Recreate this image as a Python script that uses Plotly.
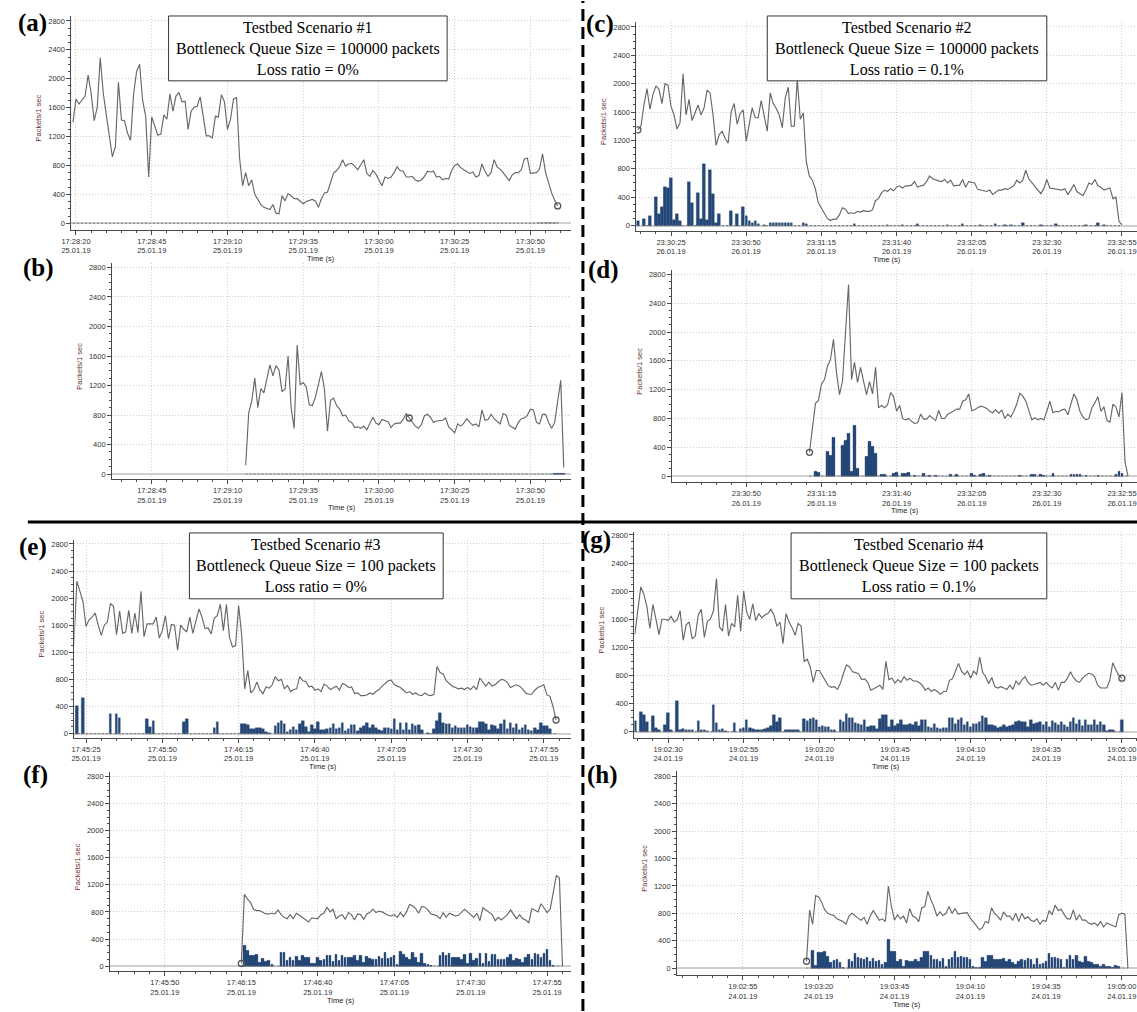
import math
import plotly.graph_objects as go

# ---------------- DATA ----------------
TICKS_AB = ["17:28:20", "17:28:45", "17:29:10", "17:29:35", "17:30:00", "17:30:25", "17:30:50"]
DATE_AB = "25.01.19"
TICKS_CD = ["23:30:25", "23:30:50", "23:31:15", "23:31:40", "23:32:05", "23:32:30", "23:32:55"]
DATE_CD = "26.01.19"
TICKS_EF = ["17:45:25", "17:45:50", "17:46:15", "17:46:40", "17:47:05", "17:47:30", "17:47:55"]
DATE_EF = "25.01.19"
TICKS_GH = ["19:02:30", "19:02:55", "19:03:20", "19:03:45", "19:04:10", "19:04:35", "19:05:00"]
DATE_GH = "24.01.19"
Y_TICKS = [0, 400, 800, 1200, 1600, 2000, 2400, 2800]

TITLES = {
    "a": ["Testbed Scenario #1", "Bottleneck Queue Size = 100000 packets", "Loss ratio = 0%"],
    "c": ["Testbed Scenario #2", "Bottleneck Queue Size = 100000 packets", "Loss ratio = 0.1%"],
    "e": ["Testbed Scenario #3", "Bottleneck Queue Size = 100 packets", "Loss ratio = 0%"],
    "g": ["Testbed Scenario #4", "Bottleneck Queue Size = 100 packets", "Loss ratio = 0.1%"],
}

# Panel (a)
A_LINE_START = "17:28:19"
A_LINE = [1400, 1720, 1650, 1700, 1760, 2050, 1800, 1420, 1600, 2290,
          1800, 1500, 1200, 920, 1060, 1950, 1430, 1420, 1250, 1150,
          1780, 2100, 2200, 1700, 1480, 640, 1470, 1350, 1220, 1230,
          1500, 1440, 1790, 1550, 1760, 1810, 1680, 1690, 1300, 1550,
          1610, 1620, 1750, 1480, 1210, 1210, 1180, 1480, 1470, 1780,
          1680, 1300, 1440, 1720, 1740, 900, 520, 700, 520, 600,
          400, 330, 260, 220, 200, 190, 260, 140, 130, 380,
          310, 410, 380, 340, 340, 310, 270, 300, 320, 330,
          310, 220, 340, 420, 430, 560, 690, 730, 780, 880,
          790, 820, 830, 790, 740, 810, 880, 690, 650, 730,
          680, 600, 520, 640, 620, 640, 700, 780, 730, 720,
          640, 640, 650, 600, 580, 600, 650, 720, 710, 720,
          640, 650, 600, 620, 610, 730, 800, 820, 770, 740,
          720, 690, 710, 640, 660, 820, 720, 650, 700, 880,
          780, 750, 700, 640, 590, 670, 700, 700, 740, 890,
          900, 690, 700, 700, 750, 960, 700, 550, 420, 320,
          240]
A_BAR_START = "17:30:53"
A_BAR = [10, 10, 10, 10, 10, 10, 10]
A_CIRCLE = "17:30:59"

# Panel (b)
B_LINE_START = "17:29:16"
B_LINE = [120, 830, 990, 1300, 900, 1160, 1100, 1300, 1480, 1330,
          1470, 1410, 1120, 1150, 1600, 900, 620, 1750, 1210, 1240,
          1180, 940, 930, 1040, 1200, 1390, 1150, 580, 1000, 1030,
          930, 880, 790, 800, 720, 700, 630, 640, 620, 650,
          600, 690, 770, 690, 670, 740, 720, 710, 630, 680,
          690, 690, 740, 820, 760, 700, 650, 620, 670, 790,
          810, 770, 700, 720, 730, 730, 760, 640, 600, 560,
          680, 650, 690, 750, 700, 660, 680, 640, 870, 730,
          740, 810, 750, 720, 680, 820, 800, 660, 640, 610,
          700, 750, 760, 800, 880, 870, 700, 680, 810, 810,
          700, 620, 700, 1000, 1270, 90]
B_BAR_START = "17:30:58"
B_BAR = [10, 10, 10, 10]
B_CIRCLE = "17:30:10"

# Panel (c)
C_LINE_START = "23:30:14"
C_LINE = [1350, 1400, 1700, 1930, 1640, 1850, 1970, 1920, 1720, 2000,
          1980, 1680, 1560, 1360, 1450, 2140, 1560, 1780, 1480, 1600,
          1700, 1560, 1660, 1910, 1870, 1550, 1130, 1280, 1330, 1230,
          1160, 1600, 1720, 1430, 1580, 1630, 1190, 1420, 1660, 1520,
          1520, 1760, 1560, 1330, 1870, 1720, 1650, 1560, 1380, 1800,
          1950, 1400, 1400, 2060, 1500, 1590, 900, 700, 640, 520,
          320, 240, 170, 100, 70, 90, 90, 150, 250, 230,
          170, 180, 170, 200, 190, 210, 200, 200, 220, 350,
          380, 460, 500, 480, 520, 490, 540, 560, 530, 560,
          560, 570, 620, 540, 560, 570, 620, 700, 660, 640,
          630, 620, 650, 600, 640, 560, 560, 570, 650, 540,
          620, 610, 600, 510, 500, 500, 480, 500, 440, 470,
          500, 500, 520, 510, 530, 560, 640, 600, 640, 780,
          660, 610, 560, 500, 450, 520, 650, 530, 520, 510,
          510, 500, 520, 440, 500, 580, 480, 450, 420, 500,
          600, 580, 650, 560, 540, 500, 520, 530, 380, 400,
          60, 10]
C_BAR_START = "23:30:14"
C_BAR = [60, 0, 90, 0, 130, 0, 410, 170, 260, 540,
         530, 670, 80, 160, 60, 0, 0, 620, 320, 0,
         460, 90, 870, 80, 790, 440, 40, 160, 0, 0,
         0, 200, 0, 160, 0, 260, 140, 60, 40, 70,
         20, 0, 10, 0, 40, 40, 30, 30, 30, 30,
         40, 40, 0, 0, 0, 30, 20, 0, 0, 0,
         0, 0, 0, 0, 0, 0, 0, 0, 0, 0,
         0, 0, 20, 0, 0, 0, 0, 0, 0, 0,
         0, 0, 0, 10, 0, 0, 0, 0, 10, 0,
         0, 0, 0, 20, 0, 0, 0, 0, 0, 0,
         0, 0, 0, 10, 0, 0, 0, 0, 20, 0,
         0, 0, 0, 0, 10, 0, 0, 0, 0, 20,
         0, 0, 10, 0, 10, 0, 0, 0, 30, 0,
         0, 0, 0, 0, 10, 0, 0, 0, 0, 20,
         0, 0, 0, 0, 0, 0, 0, 0, 0, 10,
         0, 0, 0, 30, 0, 10, 0, 0, 0, 0,
         0, 0]
C_CIRCLE = "23:30:14"

# Panel (d)
D_LINE_START = "23:31:11"
D_LINE = [330, 680, 1010, 1050, 1280, 1340, 1530, 1620, 1900, 1440,
          1130, 1320, 2000, 2660, 1340, 1580, 1300, 1510, 1320, 1130,
          1310, 1140, 1510, 950, 980, 950, 990, 1160, 1100, 900,
          980, 800, 780, 800, 760, 730, 740, 860, 790, 790,
          840, 800, 770, 910, 800, 800, 860, 880, 900, 930,
          930, 1040, 1060, 1140, 910, 920, 950, 970, 960, 940,
          900, 880, 920, 870, 920, 800, 860, 820, 900, 1000,
          1150, 1110, 1040, 900, 780, 810, 780, 800, 780, 900,
          1040, 880, 900, 890, 920, 930, 850, 1000, 1140, 1060,
          900, 820, 780, 800, 950, 1020, 1100, 900, 960, 770,
          750, 1000, 960, 820, 1160, 200, 0]
D_BAR_START = "23:31:11"
D_BAR = [0, 0, 70, 50, 0, 0, 340, 280, 540, 0,
         0, 420, 490, 590, 70, 700, 110, 0, 0, 270,
         480, 410, 310, 0, 20, 20, 0, 0, 30, 50,
         0, 30, 40, 50, 0, 10, 0, 0, 40, 0,
         10, 0, 10, 0, 0, 0, 0, 20, 0, 20,
         0, 0, 0, 0, 40, 10, 0, 20, 40, 0,
         10, 0, 0, 0, 0, 0, 0, 0, 0, 0,
         10, 0, 0, 0, 20, 20, 0, 20, 10, 0,
         0, 30, 0, 0, 0, 0, 0, 20, 20, 20,
         20, 0, 10, 0, 0, 0, 10, 0, 0, 0,
         0, 0, 20, 60, 30, 0, 0]
D_CIRCLE = "23:31:11"

# Panel (e)
E_LINE_START = "17:45:21"
E_LINE = [1300, 2250, 2100, 1950, 1580, 1680, 1720, 1780, 1600, 1450,
          1600, 1650, 1920, 1880, 1460, 1810, 1480, 1500, 1820, 1480,
          1780, 1490, 2100, 1430, 1620, 1620, 1620, 1720, 1410, 1520,
          1740, 1400, 1610, 1600, 1230, 1600, 1540, 1500, 1720, 1480,
          1680, 1840, 1720, 1550, 1560, 1470, 1700, 1740, 1910, 1520,
          1910, 1420, 1280, 1300, 1890, 1450, 660, 930, 600, 650,
          760, 640, 590, 690, 670, 720, 840, 780, 800, 660,
          710, 620, 650, 660, 840, 780, 770, 690, 700, 640,
          660, 620, 730, 700, 650, 680, 700, 640, 740, 720,
          680, 690, 590, 600, 560, 560, 570, 600, 580, 620,
          650, 700, 740, 780, 790, 720, 700, 680, 640, 600,
          620, 580, 600, 570, 560, 600, 570, 560, 580, 990,
          900, 880, 780, 740, 700, 680, 660, 670, 650, 680,
          650, 700, 650, 820, 760, 700, 760, 700, 720, 760,
          800, 790, 760, 680, 700, 720, 700, 660, 600, 580,
          580, 640, 680, 700, 720, 570, 550, 400, 200]
E_BAR_START = "17:45:21"
E_BAR = [0, 410, 0, 520, 0, 0, 0, 0, 0, 0,
         0, 0, 290, 0, 290, 230, 0, 0, 0, 0,
         0, 0, 0, 0, 210, 100, 190, 0, 0, 0,
         0, 0, 0, 0, 0, 0, 170, 210, 0, 0,
         0, 0, 0, 0, 0, 0, 90, 170, 0, 0,
         0, 0, 0, 0, 0, 140, 140, 130, 70, 70,
         80, 90, 70, 20, 10, 0, 110, 150, 180, 140,
         20, 60, 100, 60, 140, 180, 100, 30, 130, 70,
         170, 60, 50, 70, 80, 140, 70, 80, 150, 40,
         70, 130, 120, 40, 90, 110, 150, 80, 120, 90,
         60, 40, 80, 90, 70, 210, 60, 160, 50, 150,
         60, 140, 110, 130, 50, 0, 10, 0, 70, 190,
         310, 150, 140, 140, 80, 110, 90, 90, 80, 120,
         100, 90, 90, 170, 170, 140, 60, 120, 110, 70,
         140, 200, 70, 160, 80, 140, 60, 90, 120, 60,
         40, 90, 60, 160, 110, 110, 70]
E_CIRCLE = "17:47:59"

# Panel (f)
F_LINE_START = "17:46:15"
F_LINE = [40, 1060, 990, 940, 840, 820, 820, 790, 770, 770,
          780, 770, 830, 760, 720, 700, 760, 700, 780, 750,
          720, 690, 650, 710, 710, 700, 760, 780, 870, 800,
          840, 700, 740, 760, 690, 790, 760, 680, 770, 760,
          690, 770, 790, 840, 790, 810, 800, 770, 750, 740,
          760, 720, 790, 730, 800, 910, 890, 850, 780, 880,
          870, 830, 770, 760, 740, 700, 790, 720, 780, 760,
          740, 750, 790, 840, 800, 760, 720, 780, 670, 860,
          830, 800, 760, 670, 720, 680, 720, 760, 830, 760,
          700, 760, 700, 680, 640, 850, 830, 800, 920, 860,
          790, 840, 1100, 1340, 1300, 0]
F_BAR_START = "17:46:16"
F_BAR = [300, 230, 160, 160, 170, 60, 110, 70, 80, 20,
         0, 0,
         200, 200, 80, 130, 80, 140, 90, 160, 130, 120,
         40, 40, 130, 90, 100, 150, 150, 70, 170, 90,
         150, 130, 130, 120, 150, 80, 150, 60, 140, 110,
         100, 100, 140, 110, 200, 110, 120, 160, 30, 220,
         170, 130, 100, 200, 120, 60, 190, 40, 20, 10,
         0, 0,
         150, 200, 160, 180, 130, 130, 120, 100, 170, 40,
         180, 80, 110, 180, 40, 180, 70, 170, 170, 100,
         100, 100, 130, 170, 80, 110, 100, 60, 130, 170,
         100, 180, 170, 130, 180, 250, 80, 10]
F_CIRCLE = "17:46:15"

# Panel (g)
G_LINE_START = "19:02:19"
G_LINE = [1380, 1700, 2060, 1960, 1780, 1470, 1810, 1600, 1380, 1600,
          1600, 1580, 1640, 1560, 1590, 1720, 1300, 1520, 1560, 1320,
          1360, 1660, 1740, 1340, 1570, 1600, 1720, 2180, 1490, 1430,
          1810, 1360, 1540, 1490, 1940, 1430, 2000, 1700, 1600, 1820,
          1580, 1680, 1620, 1660, 1680, 1740, 1660, 1500, 1560, 1250,
          1680, 1560, 1480, 1370, 1540, 1500, 1000, 1030, 920, 700,
          870, 870, 800, 720, 650, 630, 640, 600, 690, 830,
          950, 920, 850, 840, 820, 740, 750, 700, 590, 610,
          640, 660, 600, 1000, 740, 760, 690, 740, 700, 780,
          730, 760, 720, 720, 700, 660, 590, 620, 570, 600,
          570, 530, 570, 570, 730, 750, 860, 970, 860, 810,
          860, 760, 860, 810, 1060, 840, 780, 680, 770, 640,
          620, 640, 620, 600, 660, 600, 720, 670, 740, 780,
          700, 660, 670, 680, 700, 660, 700, 650, 620, 700,
          590, 700, 700, 760, 850, 770, 720, 700, 760, 800,
          830, 820, 780, 660, 620, 620, 620, 730, 980, 880,
          800, 760]
G_BAR_START = "19:02:19"
G_BAR = [150, 0, 280, 230, 130, 0, 220, 50, 20, 0,
         100, 270, 20, 0, 440, 30, 40, 30, 20, 20,
         0, 150, 30, 30, 10, 0, 380, 120, 20, 40,
         10, 0, 0, 120, 0, 40, 50, 160, 50, 40,
         30, 30, 30, 40, 50, 80, 240, 130, 200, 0,
         20, 20, 20, 20, 20, 0, 180, 150, 180, 200,
         160, 70, 80, 60, 60, 30, 30, 0, 160, 130,
         250, 200, 200, 120, 110, 100, 170, 60, 80, 80,
         40, 180, 230, 240, 70, 170, 80, 110, 170, 90,
         100, 110, 90, 130, 80, 160, 160, 70, 50, 110,
         50, 40, 50, 50, 190, 190, 110, 170, 200, 90,
         130, 70, 110, 110, 130, 220, 190, 100, 100, 80,
         50, 70, 90, 60, 80, 90, 140, 150, 130, 140,
         70, 170, 110, 120, 130, 100, 140, 70, 150, 120,
         100, 140, 100, 70, 130, 200, 110, 170, 80, 160,
         90, 100, 160, 90, 140, 100, 10, 20, 30, 0,
         0, 170]
G_CIRCLE = "19:05:00"

# Panel (h)
H_LINE_START = "19:03:16"
H_LINE = [100, 850, 640, 1060, 1040, 960, 850, 800, 780, 770,
          720, 700, 680, 640, 760, 800, 760, 730, 700, 740,
          640, 760, 840, 760, 700, 720, 680, 1200, 900, 700,
          780, 720, 760, 660, 870, 760, 740, 680, 880, 900,
          1120, 1000, 900, 760, 820, 770, 800, 900, 800, 870,
          790, 800, 800, 810, 730, 680, 620, 560, 590, 680,
          660, 880, 800, 760, 700, 820, 760, 760, 700, 800,
          680, 800, 720, 750, 700, 680, 720, 640, 700, 680,
          840, 780, 920, 840, 860, 780, 720, 720, 850, 700,
          780, 700, 700, 660, 640, 660, 620, 680, 600, 660,
          640, 620, 600, 780, 800, 790, 0]
H_BAR_START = "19:03:16"
H_BAR = [0, 0, 260, 40, 230, 230, 250, 170, 80, 110,
         130, 80, 10, 0, 120, 100, 210, 160, 140, 130,
         160, 90, 140, 90, 110, 50, 80, 420, 250, 240,
         90, 130, 20, 110, 100, 90, 130, 90, 150, 250,
         240, 190, 130, 130, 100, 140, 20, 130, 160, 250,
         150, 170, 160, 150, 130, 20, 10, 10, 150, 100,
         180, 180, 130, 120, 130, 140, 100, 130, 80, 60,
         100, 130, 110, 140, 130, 60, 140, 60, 70, 90,
         220, 150, 150, 140, 120, 10, 130, 180, 120, 180,
         100, 80, 170, 100, 80, 60, 50, 20, 50, 30,
         20, 10, 40, 20, 0, 0, 0]
H_CIRCLE = "19:03:16"

# ---------------- LAYOUT (pixels) ----------------
W, H = 1137, 1012


def sod(s):
    h, m, sec = s.split(":")
    return int(h) * 3600 + int(m) * 60 + float(sec)


PANELS = [
    # key, line, bars, circle, ticks, date, x-range, (left, right, top, bottom, y0px, y2800px)
    ("a", A_LINE_START, A_LINE, A_BAR_START, A_BAR, A_CIRCLE, TICKS_AB, DATE_AB,
     ("17:28:18.5", "17:31:03.4"), (62, 566, 15, 229, 222.7, 20)),
    ("b", B_LINE_START, B_LINE, B_BAR_START, B_BAR, B_CIRCLE, TICKS_AB, DATE_AB,
     ("17:28:31.9", "17:31:03.4"), (103, 566, 263, 479, 474, 267)),
    ("c", C_LINE_START, C_LINE, C_BAR_START, C_BAR, C_CIRCLE, TICKS_CD, DATE_CD,
     ("23:30:13.5", "23:33:00"), (632, 1137, 21, 230, 225, 26)),
    ("d", D_LINE_START, D_LINE, D_BAR_START, D_BAR, D_CIRCLE, TICKS_CD, DATE_CD,
     ("23:30:25.3", "23:33:00"), (668, 1137, 270, 482, 476, 274)),
    ("e", E_LINE_START, E_LINE, E_BAR_START, E_BAR, E_CIRCLE, TICKS_EF, DATE_EF,
     ("17:45:21.2", "17:48:03.9"), (65, 566, 540, 738, 734, 544)),
    ("f", F_LINE_START, F_LINE, F_BAR_START, F_BAR, F_CIRCLE, TICKS_EF, DATE_EF,
     ("17:45:32.1", "17:48:02.8"), (101, 566, 773, 972, 967, 777)),
    ("g", G_LINE_START, G_LINE, G_BAR_START, G_BAR, G_CIRCLE, TICKS_GH, DATE_GH,
     ("19:02:18.9", "19:05:05"), (630, 1137, 532, 738, 732, 535)),
    ("h", H_LINE_START, H_LINE, H_BAR_START, H_BAR, H_CIRCLE, TICKS_GH, DATE_GH,
     ("19:02:33.3", "19:05:05"), (673, 1137, 772, 976, 969, 777)),
]

LETTER_POS = {"a": (23, 22), "b": (29, 268), "c": (595, 23), "d": (599, 270),
              "e": (23, 547), "f": (26, 776), "g": (592, 540), "h": (598, 776)}
BOX_POS = {"a": (160, 441, 15, 80), "c": (764, 1046, 15, 80),
           "e": (181, 437, 533, 599), "g": (788, 1046, 533, 599)}

LINE_COLOR = "#676767"
BAR_COLOR = "#24487a"
GRID = "#cfcfcf"
AXIS = "#4a4a4a"
TICKFONT = dict(family="Liberation Sans, Arial", size=7.5, color="#333333")


def px_x(x):
    return x / W


def px_y(y):
    return 1 - y / H


fig = go.Figure()
layout = {}
annotations = []
shapes = []

for i, (key, ls, lv, bs, bv, circ, ticks, date, xr, box) in enumerate(PANELS, start=1):
    xa = "x" if i == 1 else f"x{i}"
    ya = "y" if i == 1 else f"y{i}"
    xname = "xaxis" if i == 1 else f"xaxis{i}"
    yname = "yaxis" if i == 1 else f"yaxis{i}"
    left, right, top, bottom, y0px, y28px = box
    k = 2800.0 / (y0px - y28px)
    yrange = [-(bottom - y0px) * k, 2800 + (y28px - top) * k]
    xrange = [sod(xr[0]), sod(xr[1])]

    xs = [sod(ls) + j for j in range(len(lv))]
    bx_all = [sod(bs) + j for j in range(len(bv))]
    bx = [x for x, v in zip(bx_all, bv) if v > 0]
    by = [v for v in bv if v > 0]

    # dotted zero line of the (empty) bar series
    fig.add_trace(go.Scatter(x=[xs[0], xs[-1]], y=[0, 0], mode="lines",
                             line=dict(color="#777777", width=1, dash="2px,2px"),
                             xaxis=xa, yaxis=ya, hoverinfo="skip"))
    fig.add_trace(go.Bar(x=bx, y=by, width=0.82,
                         marker=dict(color=BAR_COLOR, line=dict(color="#1a365f", width=0.3)),
                         xaxis=xa, yaxis=ya, hoverinfo="skip"))
    fig.add_trace(go.Scatter(x=xs, y=lv, mode="lines",
                             line=dict(color=LINE_COLOR, width=1.15),
                             xaxis=xa, yaxis=ya, hoverinfo="skip"))
    ci = int(round(sod(circ) - sod(ls)))
    fig.add_trace(go.Scatter(x=[xs[ci]], y=[lv[ci]], mode="markers",
                             marker=dict(symbol="circle-open", size=6, color="#555555",
                                         line=dict(width=1.3)),
                             xaxis=xa, yaxis=ya, hoverinfo="skip"))

    tickvals = [sod(t) for t in ticks]
    ticktext = [f"{t}<br>{date}" for t in ticks]
    t0 = tickvals[0]
    m0 = t0 - 5 * math.floor((t0 - xrange[0]) / 5)
    minor_vals = []
    v = m0
    while v <= xrange[1]:
        minor_vals.append(v)
        v += 5

    layout[xname] = dict(
        domain=[px_x(left), px_x(right)], range=xrange, anchor=ya,
        tickmode="array", tickvals=tickvals, ticktext=ticktext,
        showgrid=True, gridcolor=GRID, griddash="1px,2px", gridwidth=1,
        zeroline=False, showline=True, linecolor=AXIS, linewidth=1,
        ticks="outside", ticklen=4, tickcolor=AXIS, tickfont=TICKFONT,
        minor=dict(tickmode="array", tickvals=minor_vals, ticks="outside",
                   ticklen=2, tickcolor=AXIS, showgrid=False),
        fixedrange=True,
    )
    layout[yname] = dict(
        domain=[px_y(bottom), px_y(top)], range=yrange, anchor=xa,
        tickmode="array", tickvals=Y_TICKS, ticktext=[str(t) for t in Y_TICKS],
        showgrid=True, gridcolor=GRID, griddash="1px,2px", gridwidth=1,
        zeroline=True, zerolinecolor="#cfcfcf", zerolinewidth=2,
        showline=True, linecolor=AXIS, linewidth=1,
        ticks="outside", ticklen=4, tickcolor=AXIS, tickfont=TICKFONT,
        minor=dict(dtick=100, tick0=0, ticks="outside", ticklen=2,
                   tickcolor=AXIS, showgrid=False),
        fixedrange=True,
    )

    # axis titles
    annotations.append(dict(text="Time (s)", x=px_x((left + right) / 2), y=px_y(bottom + 29),
                            xref="paper", yref="paper", showarrow=False,
                            font=dict(family="Liberation Sans, Arial", size=7.5, color="#222222"),
                            xanchor="center", yanchor="middle"))
    annotations.append(dict(text="Packets/1 sec", x=px_x(left - 33), y=px_y((top + bottom) / 2 - 5),
                            xref="paper", yref="paper", showarrow=False, textangle=-90,
                            font=dict(family="Liberation Sans, Arial", size=7.5, color="#6b3030"),
                            xanchor="center", yanchor="middle"))
    # panel letter
    lx, ly = LETTER_POS[key]
    annotations.append(dict(text=f"<b>({key})</b>", x=px_x(lx), y=px_y(ly),
                            xref="paper", yref="paper", showarrow=False,
                            font=dict(family="Liberation Serif, Times New Roman", size=25, color="black"),
                            xanchor="center", yanchor="middle"))

# scenario boxes
for key, lines in TITLES.items():
    x0, x1, y0, y1 = BOX_POS[key]
    shapes.append(dict(type="rect", xref="paper", yref="paper",
                       x0=px_x(x0), x1=px_x(x1), y0=px_y(y1), y1=px_y(y0),
                       line=dict(color="#333333", width=1), fillcolor="white", layer="above"))
    annotations.append(dict(text="<br>".join(lines), x=px_x((x0 + x1) / 2), y=px_y((y0 + y1) / 2),
                            xref="paper", yref="paper", showarrow=False, align="center",
                            font=dict(family="Liberation Serif, Times New Roman", size=16, color="black"),
                            xanchor="center", yanchor="middle"))

# separators
shapes.append(dict(type="line", xref="paper", yref="paper", x0=px_x(578), x1=px_x(578), y0=0, y1=1,
                   line=dict(color="black", width=3, dash="12px,6px"), layer="above"))
shapes.append(dict(type="line", xref="paper", yref="paper", x0=px_x(18), x1=1, y0=px_y(522), y1=px_y(522),
                   line=dict(color="black", width=3), layer="above"))

fig.update_layout(
    width=W, height=H, autosize=False,
    margin=dict(l=0, r=0, t=0, b=0),
    paper_bgcolor="white", plot_bgcolor="white",
    showlegend=False, bargap=0,
    annotations=annotations, shapes=shapes,
    font=dict(family="Liberation Sans, Arial"),
    **layout,
)

fig.write_html("out.html",
               config={"displayModeBar": False},
               post_script="document.body.style.margin='0';document.body.style.padding='0';"
                           "document.body.style.overflow='hidden';")
